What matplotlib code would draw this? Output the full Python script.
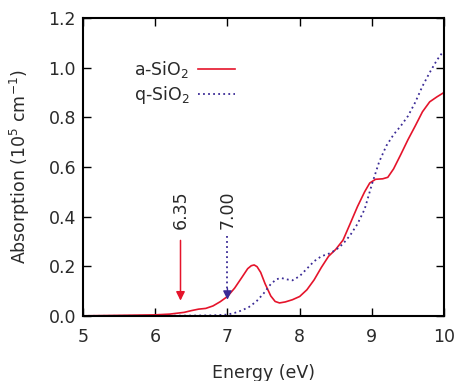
"""Absorption spectra of a-SiO2 and q-SiO2"""
import matplotlib
matplotlib.use('Agg')
import matplotlib.pyplot as plt

plt.rcParams['font.family'] = ['DejaVu Sans']
plt.rcParams['mathtext.default'] = 'regular'

# a-SiO2 (red solid)
a_energy = [5.0, 5.5, 6.0, 6.2, 6.4, 6.5, 6.6, 6.7, 6.8, 6.9, 7.0, 7.1, 7.2, 7.28,
            7.33, 7.37, 7.41, 7.46, 7.52, 7.6, 7.66, 7.72, 7.8, 7.9, 8.0, 8.1, 8.2,
            8.3, 8.4, 8.5, 8.6, 8.7, 8.8, 8.9, 8.97, 9.05, 9.15, 9.22, 9.3, 9.4,
            9.5, 9.6, 9.7, 9.8, 9.9, 10.0]
a_abs = [0.0, 0.002, 0.004, 0.007, 0.014, 0.021, 0.027, 0.03, 0.04, 0.057, 0.078,
         0.112, 0.155, 0.19, 0.202, 0.205, 0.198, 0.175, 0.13, 0.08, 0.058, 0.052,
         0.056, 0.065, 0.078, 0.105, 0.145, 0.195, 0.24, 0.268, 0.305, 0.372,
         0.44, 0.5, 0.535, 0.55, 0.552, 0.558, 0.592, 0.65, 0.71, 0.765, 0.822,
         0.862, 0.882, 0.9]

# q-SiO2 (blue dotted)
q_energy = [5.0, 6.0, 6.5, 6.8, 7.0, 7.1, 7.2, 7.3, 7.4, 7.5, 7.6, 7.68, 7.75,
            7.82, 7.9, 8.0, 8.1, 8.2, 8.3, 8.4, 8.5, 8.6, 8.7, 8.8, 8.9, 9.0, 9.1,
            9.2, 9.3, 9.4, 9.5, 9.6, 9.7, 9.8, 9.9, 10.0]
q_abs = [0.0, 0.0, 0.001, 0.002, 0.005, 0.012, 0.022, 0.036, 0.058, 0.09, 0.128,
         0.148, 0.152, 0.147, 0.143, 0.16, 0.19, 0.22, 0.24, 0.25, 0.265, 0.29,
         0.325, 0.37, 0.43, 0.53, 0.62, 0.685, 0.73, 0.765, 0.805, 0.86, 0.925,
         0.98, 1.03, 1.07]

gap_pos = [6.35, 7.00]
gap_labels = ['6.35', '7.00']

red = '#e5142b'
blue = '#3b2b96'
txt = '#2a2a2a'
dots = (0, (1, 1.8))

fig = plt.figure(figsize=(4.56, 3.81), dpi=100)
ax = fig.add_axes([0.182, 0.171, 0.792, 0.782])

ax.plot(a_energy, a_abs, color=red, lw=1.2, label='a-SiO$_2$')
ax.plot(q_energy, q_abs, color=blue, lw=1.3, linestyle=dots, label='q-SiO$_2$')

# band gap arrows
ax.annotate('', xy=(gap_pos[0], 0.05), xytext=(gap_pos[0], 0.315),
            arrowprops=dict(arrowstyle='-|>', color=red, lw=1.1, mutation_scale=13))
ax.plot([gap_pos[1], gap_pos[1]], [0.32, 0.1], color=blue, lw=1.3, linestyle=dots)
ax.annotate('', xy=(gap_pos[1], 0.065), xytext=(gap_pos[1], 0.11),
            arrowprops=dict(arrowstyle='-|>', color=blue, lw=1.0, mutation_scale=13,
                            shrinkA=0, shrinkB=0))
for xp, lab in zip(gap_pos, gap_labels):
    ax.text(xp, 0.35, lab, rotation=90, ha='center', va='bottom', fontsize=12.5, color=txt)

ax.set_xlim(5, 10)
ax.set_ylim(0, 1.2)
ax.set_xticks([5, 6, 7, 8, 9, 10])
ax.set_yticks([0.0, 0.2, 0.4, 0.6, 0.8, 1.0, 1.2])
ax.set_yticklabels(['0.0', '0.2', '0.4', '0.6', '0.8', '1.0', '1.2'])
ax.tick_params(direction='in', length=6, width=1, top=True, right=True,
               labelsize=12.5, labelcolor=txt)
ax.tick_params(axis='x', pad=9)
ax.tick_params(axis='y', pad=5)
for s in ax.spines.values():
    s.set_linewidth(1.5)

ax.set_xlabel('Energy (eV)', fontsize=12.5, color=txt, labelpad=13)
ax.set_ylabel('Absorption (10$^5$ cm$^{-1}$)', fontsize=12.5, color=txt, labelpad=12)

ax.legend(loc='upper left', bbox_to_anchor=(0.122, 0.885), frameon=False, markerfirst=False,
          fontsize=12.5, handlelength=2.1, handletextpad=0.5, labelspacing=0.2,
          borderaxespad=0, labelcolor=txt)

fig.savefig('out.png', dpi=100)
